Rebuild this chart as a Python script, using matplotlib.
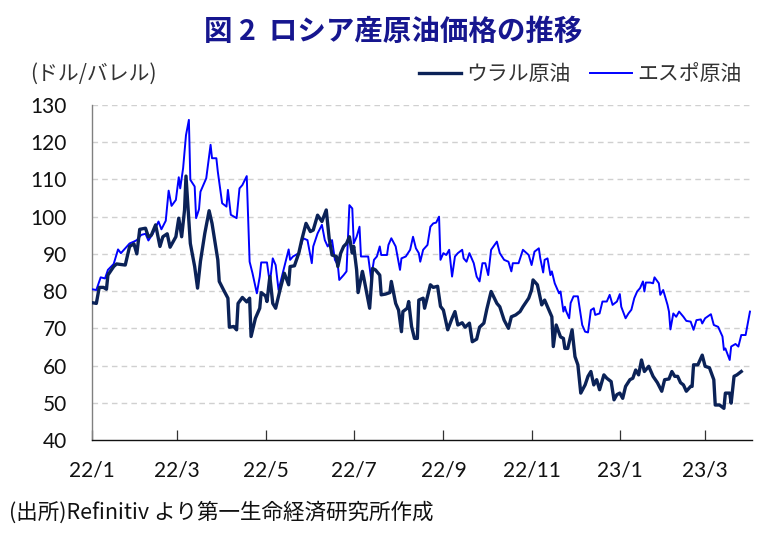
import matplotlib
matplotlib.use("Agg")
import matplotlib.pyplot as plt
import pandas as pd
from matplotlib import font_manager

# ---------------- data ----------------
urals_dates = [
    "2022-01-01", "2022-01-04", "2022-01-06", "2022-01-09", "2022-01-11", "2022-01-12", "2022-01-16", "2022-01-18",
    "2022-01-24", "2022-01-27", "2022-01-30", "2022-02-01", "2022-02-03", "2022-02-07", "2022-02-09", "2022-02-11",
    "2022-02-14", "2022-02-17", "2022-02-19", "2022-02-22", "2022-02-24", "2022-02-28", "2022-03-02", "2022-03-04",
    "2022-03-06", "2022-03-07", "2022-03-10", "2022-03-13", "2022-03-15", "2022-03-17", "2022-03-20", "2022-03-23",
    "2022-03-25", "2022-03-29", "2022-03-30", "2022-04-02", "2022-04-05", "2022-04-06", "2022-04-09", "2022-04-11",
    "2022-04-12", "2022-04-15", "2022-04-18", "2022-04-20", "2022-04-21", "2022-04-24", "2022-04-27", "2022-04-28",
    "2022-05-01", "2022-05-02", "2022-05-04", "2022-05-06", "2022-05-08", "2022-05-11", "2022-05-14", "2022-05-17",
    "2022-05-18", "2022-05-21", "2022-05-24", "2022-05-26", "2022-05-29", "2022-06-01", "2022-06-03", "2022-06-06",
    "2022-06-09", "2022-06-12", "2022-06-14", "2022-06-16", "2022-06-19", "2022-06-20", "2022-06-22", "2022-06-24",
    "2022-06-26", "2022-06-28", "2022-06-30", "2022-07-01", "2022-07-03", "2022-07-04", "2022-07-07", "2022-07-08",
    "2022-07-10", "2022-07-12", "2022-07-14", "2022-07-16", "2022-07-19", "2022-07-20", "2022-07-23", "2022-07-26",
    "2022-07-27", "2022-07-30", "2022-08-01", "2022-08-03", "2022-08-04", "2022-08-07", "2022-08-08", "2022-08-10",
    "2022-08-12", "2022-08-14", "2022-08-15", "2022-08-18", "2022-08-19", "2022-08-21", "2022-08-23", "2022-08-25",
    "2022-08-28", "2022-08-30", "2022-09-01", "2022-09-04", "2022-09-07", "2022-09-09", "2022-09-11", "2022-09-14",
    "2022-09-16", "2022-09-19", "2022-09-21", "2022-09-24", "2022-09-26", "2022-09-29", "2022-10-01", "2022-10-04",
    "2022-10-08", "2022-10-10", "2022-10-13", "2022-10-16", "2022-10-18", "2022-10-21", "2022-10-24", "2022-10-26",
    "2022-10-30", "2022-11-01", "2022-11-02", "2022-11-05", "2022-11-08", "2022-11-10", "2022-11-13", "2022-11-15",
    "2022-11-16", "2022-11-18", "2022-11-21", "2022-11-23", "2022-11-24", "2022-11-26", "2022-11-29", "2022-12-01",
    "2022-12-03", "2022-12-05", "2022-12-08", "2022-12-10", "2022-12-12", "2022-12-14", "2022-12-16", "2022-12-18",
    "2022-12-21", "2022-12-23", "2022-12-26", "2022-12-28", "2022-12-30", "2023-01-01", "2023-01-03", "2023-01-05",
    "2023-01-08", "2023-01-10", "2023-01-12", "2023-01-14", "2023-01-16", "2023-01-18", "2023-01-21", "2023-01-24",
    "2023-01-27", "2023-01-30", "2023-02-01", "2023-02-04", "2023-02-06", "2023-02-08", "2023-02-10", "2023-02-12",
    "2023-02-14", "2023-02-16", "2023-02-19", "2023-02-20", "2023-02-21", "2023-02-24", "2023-02-27", "2023-03-01",
    "2023-03-04", "2023-03-07", "2023-03-08", "2023-03-11", "2023-03-14", "2023-03-15", "2023-03-18", "2023-03-19",
    "2023-03-21", "2023-03-23", "2023-03-26",
]
urals_values = [
    76.9, 76.7, 81.0, 81.0, 80.5, 84.3, 86.6, 87.3,
    87.0, 92.0, 92.7, 90.0, 96.6, 96.9, 94.6, 95.0,
    97.8, 92.0, 94.6, 95.4, 91.8, 94.6, 99.6, 94.6,
    101.8, 110.9, 92.8, 86.6, 80.8, 88.0, 95.5, 101.6,
    98.2, 88.4, 82.6, 80.3, 78.1, 70.3, 70.5, 69.6,
    76.7, 78.3, 77.1, 78.1, 67.8, 72.7, 75.4, 79.6,
    78.7, 77.2, 83.9, 76.7, 75.4, 80.3, 84.8, 81.7,
    86.6, 86.8, 90.2, 93.7, 98.2, 96.0, 96.4, 100.4,
    98.7, 101.8, 94.2, 89.7, 89.3, 86.6, 90.2, 92.0,
    92.8, 94.6, 90.2, 92.0, 85.7, 79.6, 85.3, 83.5,
    79.4, 75.4, 86.1, 85.7, 84.3, 79.0, 79.2, 79.6,
    82.6, 76.7, 74.9, 69.1, 74.5, 75.4, 77.2, 70.5,
    67.3, 67.3, 77.6, 78.1, 75.4, 78.5, 81.7, 81.0,
    81.3, 75.9, 74.9, 69.6, 72.7, 74.5, 70.9, 71.5,
    70.3, 71.4, 66.4, 67.1, 70.3, 71.4, 75.1, 79.9,
    76.7, 75.8, 72.2, 70.0, 73.1, 73.6, 74.5, 75.8,
    78.1, 80.3, 83.0, 81.7, 76.3, 77.6, 74.9, 73.1,
    65.1, 70.9, 67.7, 67.3, 64.6, 64.6, 69.6, 62.4,
    60.2, 52.6, 54.8, 57.1, 58.4, 54.8, 56.2, 53.5,
    57.5, 56.6, 55.7, 50.8, 52.2, 52.6, 51.2, 54.4,
    56.2, 56.6, 58.8, 57.5, 61.5, 58.4, 59.8, 57.1,
    55.4, 53.1, 56.2, 56.4, 58.4, 57.1, 57.1, 55.4,
    54.8, 53.1, 54.4, 54.4, 60.2, 60.2, 62.8, 59.8,
    59.4, 56.2, 49.4, 49.4, 48.5, 52.6, 52.6, 49.9,
    57.1, 57.5, 58.4,
]

espo_dates = [
    "2022-01-01", "2022-01-04", "2022-01-07", "2022-01-10", "2022-01-12", "2022-01-16", "2022-01-19", "2022-01-21",
    "2022-01-24", "2022-01-27", "2022-01-30", "2022-02-01", "2022-02-04", "2022-02-07", "2022-02-09", "2022-02-12",
    "2022-02-16", "2022-02-18", "2022-02-21", "2022-02-22", "2022-02-23", "2022-02-25", "2022-02-28", "2022-03-02",
    "2022-03-03", "2022-03-05", "2022-03-07", "2022-03-09", "2022-03-10", "2022-03-13", "2022-03-14", "2022-03-16",
    "2022-03-17", "2022-03-21", "2022-03-24", "2022-03-25", "2022-03-28", "2022-03-29", "2022-04-01", "2022-04-04",
    "2022-04-05", "2022-04-07", "2022-04-11", "2022-04-13", "2022-04-15", "2022-04-18", "2022-04-20", "2022-04-22",
    "2022-04-25", "2022-04-27", "2022-04-28", "2022-05-02", "2022-05-04", "2022-05-06", "2022-05-08", "2022-05-10",
    "2022-05-13", "2022-05-17", "2022-05-18", "2022-05-20", "2022-05-24", "2022-05-27", "2022-05-30", "2022-06-02",
    "2022-06-03", "2022-06-06", "2022-06-09", "2022-06-11", "2022-06-13", "2022-06-16", "2022-06-18", "2022-06-20",
    "2022-06-21", "2022-06-24", "2022-06-26", "2022-06-28", "2022-06-30", "2022-07-01", "2022-07-03", "2022-07-05",
    "2022-07-06", "2022-07-08", "2022-07-11", "2022-07-13", "2022-07-15", "2022-07-17", "2022-07-19", "2022-07-20",
    "2022-07-24", "2022-07-25", "2022-07-27", "2022-07-30", "2022-08-02", "2022-08-03", "2022-08-06", "2022-08-09",
    "2022-08-11", "2022-08-13", "2022-08-15", "2022-08-16", "2022-08-18", "2022-08-21", "2022-08-23", "2022-08-25",
    "2022-08-27", "2022-08-29", "2022-08-30", "2022-09-01", "2022-09-03", "2022-09-05", "2022-09-07", "2022-09-09",
    "2022-09-11", "2022-09-14", "2022-09-15", "2022-09-17", "2022-09-19", "2022-09-22", "2022-09-24", "2022-09-26",
    "2022-09-28", "2022-09-30", "2022-10-02", "2022-10-04", "2022-10-08", "2022-10-10", "2022-10-13", "2022-10-16",
    "2022-10-18", "2022-10-19", "2022-10-23", "2022-10-26", "2022-10-30", "2022-11-01", "2022-11-03", "2022-11-06",
    "2022-11-07", "2022-11-09", "2022-11-10", "2022-11-12", "2022-11-14", "2022-11-15", "2022-11-17", "2022-11-20",
    "2022-11-21", "2022-11-23", "2022-11-24", "2022-11-25", "2022-11-27", "2022-11-28", "2022-11-30", "2022-12-03",
    "2022-12-06", "2022-12-08", "2022-12-10", "2022-12-12", "2022-12-14", "2022-12-15", "2022-12-18", "2022-12-20",
    "2022-12-23", "2022-12-25", "2022-12-27", "2022-12-30", "2023-01-01", "2023-01-02", "2023-01-05", "2023-01-07",
    "2023-01-09", "2023-01-11", "2023-01-13", "2023-01-15", "2023-01-17", "2023-01-18", "2023-01-19", "2023-01-22",
    "2023-01-24", "2023-01-25", "2023-01-28", "2023-01-29", "2023-01-31", "2023-02-03", "2023-02-04", "2023-02-05",
    "2023-02-07", "2023-02-09", "2023-02-11", "2023-02-14", "2023-02-16", "2023-02-19", "2023-02-21", "2023-02-23",
    "2023-02-26", "2023-02-27", "2023-03-01", "2023-03-05", "2023-03-07", "2023-03-10", "2023-03-13", "2023-03-14",
    "2023-03-15", "2023-03-18", "2023-03-19", "2023-03-22", "2023-03-24", "2023-03-26", "2023-03-29", "2023-04-01",
]
espo_values = [
    80.5, 80.3, 83.7, 83.4, 85.7, 87.3, 91.2, 90.2,
    91.5, 92.8, 93.3, 93.7, 95.1, 95.4, 93.6, 95.4,
    98.7, 96.6, 98.9, 103.1, 107.0, 102.9, 104.5, 110.6,
    107.6, 113.0, 121.9, 126.0, 109.9, 108.1, 99.6, 102.0,
    106.7, 110.3, 119.3, 115.7, 115.7, 112.1, 103.6, 102.7,
    107.2, 100.5, 99.6, 107.6, 108.5, 110.9, 87.9, 84.8,
    79.4, 83.9, 87.7, 87.7, 82.1, 88.8, 87.0, 80.3,
    85.0, 91.2, 88.4, 89.3, 90.2, 94.2, 93.7, 87.5,
    92.0, 95.5, 97.8, 93.7, 92.0, 93.7, 88.4, 87.0,
    83.0, 84.3, 85.3, 103.1, 102.2, 92.8, 94.6, 97.3,
    89.3, 89.3, 89.3, 83.4, 88.4, 89.3, 92.0, 89.7,
    89.7, 92.4, 94.2, 92.0, 85.7, 88.8, 89.3, 91.1,
    94.6, 91.5, 90.2, 87.9, 91.1, 92.4, 97.3, 98.2,
    98.4, 100.0, 88.4, 90.2, 89.7, 91.1, 83.9, 89.3,
    90.2, 91.1, 88.8, 87.9, 90.2, 87.5, 83.9, 82.6,
    87.5, 87.5, 84.3, 91.1, 93.3, 90.2, 88.4, 87.9,
    85.3, 87.5, 87.5, 91.1, 89.7, 87.0, 90.6, 91.5,
    88.8, 85.0, 88.4, 88.8, 84.3, 85.3, 82.1, 79.4,
    79.9, 74.5, 75.8, 74.5, 72.7, 76.8, 78.6, 78.6,
    70.9, 69.1, 68.9, 74.9, 75.4, 73.6, 74.0, 77.2,
    77.2, 79.0, 76.3, 77.2, 79.2, 75.8, 72.7, 74.0,
    75.0, 78.1, 79.9, 80.8, 82.6, 79.9, 82.3, 82.3,
    82.1, 83.7, 82.1, 79.0, 80.3, 76.3, 74.5, 69.7,
    74.0, 73.1, 74.5, 73.1, 72.0, 71.8, 69.6, 72.2,
    72.4, 71.3, 72.7, 73.8, 70.9, 70.4, 67.8, 64.2,
    64.6, 61.5, 65.1, 65.8, 65.1, 68.2, 68.2, 74.5,
]

series_names = ["ウラル原油", "エスポ原油"]
x_tick_labels = ["22/1", "22/3", "22/5", "22/7", "22/9", "22/11", "23/1", "23/3"]
x_tick_dates = ["2022-01-01", "2022-03-01", "2022-05-01", "2022-07-01",
                "2022-09-01", "2022-11-01", "2023-01-01", "2023-03-01"]
y_ticks = [40, 50, 60, 70, 80, 90, 100, 110, 120, 130]

title = "図 2  ロシア産原油価格の推移"
unit_label = "(ドル/バレル)"
source = "(出所)Refinitiv より第一生命経済研究所作成"

# ---------------- fonts ----------------
avail = {f.name for f in font_manager.fontManager.ttflist}
num_font = "Lato" if "Lato" in avail else "Liberation Sans"
jp = "Noto Sans CJK JP"
plt.rcParams["font.family"] = [jp, "DejaVu Sans"]

# ---------------- figure ----------------
fig = plt.figure(figsize=(7.82, 5.33), dpi=100)
ax = fig.add_axes([92 / 782, 1 - 440 / 533, (752 - 92) / 782, (440 - 105) / 533])

ud = pd.to_datetime(urals_dates)
ed = pd.to_datetime(espo_dates)
ax.plot(ed, espo_values, color="#0000FF", lw=1.4, label=series_names[1], zorder=3)
ax.plot(ud, urals_values, color="#0B2257", lw=2.4, label=series_names[0], zorder=4)

ax.set_ylim(40, 130)
ax.set_xlim(pd.Timestamp("2022-01-01"), pd.Timestamp("2023-04-02 10:00"))
ax.set_yticks(y_ticks)
ax.set_yticklabels([str(v) for v in y_ticks], fontfamily=num_font, fontsize=15, color="#111111")
ax.set_xticks(pd.to_datetime(x_tick_dates))
ax.set_xticklabels(x_tick_labels, fontfamily=num_font, fontsize=15, color="#111111")

ax.tick_params(axis="y", length=0, pad=18)
ax.tick_params(axis="x", direction="in", length=7, width=0.9, color="#333333", pad=15)
for yv in y_ticks[1:]:
    ax.axhline(yv, color="#D0D0D0", lw=1.0, ls=(0, (4, 3)), zorder=1)

for s in ["top", "right"]:
    ax.spines[s].set_visible(False)
ax.spines["left"].set_color("#808080")
ax.spines["left"].set_linewidth(1.0)
ax.spines["bottom"].set_color("#111111")
ax.spines["bottom"].set_linewidth(1.0)

# texts
fig.text(393 / 782, 1 - 32 / 533, title, ha="center", va="center",
         fontsize=20.5, fontweight="bold", color="#16168F", family=[jp, "DejaVu Sans"])
fig.text(30 / 782, 1 - 74 / 533, unit_label, ha="left", va="center",
         fontsize=15, color="#333333", family=[jp, "DejaVu Sans"])
fig.text(9 / 782, 1 - 513 / 533, source, ha="left", va="center",
         fontsize=15.5, color="#111111", family=[jp, "DejaVu Sans"])

h, l = ax.get_legend_handles_labels()
leg = fig.legend([h[1], h[0]], [l[1], l[0]], loc="center right",
                 bbox_to_anchor=(760 / 782, 1 - 74 / 533), ncol=2, frameon=False,
                 handlelength=2.0, handletextpad=0.25, columnspacing=0.95,
                 prop={"family": [jp, "DejaVu Sans"], "size": 15})
for t in leg.get_texts():
    t.set_color("#333333")

fig.savefig("out.png", dpi=100)
